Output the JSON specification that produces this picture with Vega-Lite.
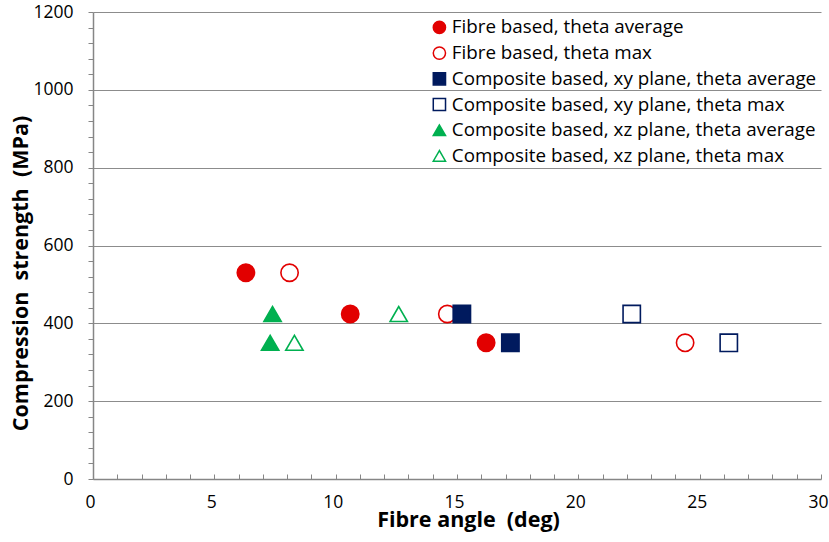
{
  "$schema": "https://vega.github.io/schema/vega-lite/v6.json",
  "width": 728,
  "height": 467,
  "autosize": {"type": "none"},
  "padding": {"left": 93, "top": 12, "right": 8, "bottom": 63},
  "background": "white",
  "config": {
    "font": "Open Sans",
    "view": {"stroke": null},
    "axis": {"labelFont": "Open Sans", "titleFont": "Open Sans", "labelColor": "#000000", "titleColor": "#000000"}
  },
  "data": {
    "values": [
      {"series": "Fibre based, theta average", "angle": 6.3, "strength": 530},
      {"series": "Fibre based, theta average", "angle": 10.6, "strength": 424},
      {"series": "Fibre based, theta average", "angle": 16.2, "strength": 350},
      {"series": "Fibre based, theta max", "angle": 8.1, "strength": 530},
      {"series": "Fibre based, theta max", "angle": 14.6, "strength": 424},
      {"series": "Fibre based, theta max", "angle": 24.4, "strength": 350},
      {"series": "Composite based, xy plane, theta average", "angle": 15.2, "strength": 424},
      {"series": "Composite based, xy plane, theta average", "angle": 17.2, "strength": 350},
      {"series": "Composite based, xy plane, theta max", "angle": 22.2, "strength": 424},
      {"series": "Composite based, xy plane, theta max", "angle": 26.2, "strength": 350},
      {"series": "Composite based, xz plane, theta average", "angle": 7.4, "strength": 424},
      {"series": "Composite based, xz plane, theta average", "angle": 7.3, "strength": 350},
      {"series": "Composite based, xz plane, theta max", "angle": 12.6, "strength": 424},
      {"series": "Composite based, xz plane, theta max", "angle": 8.3, "strength": 350}
    ]
  },
  "mark": {"type": "point", "opacity": 1, "size": 300, "strokeWidth": 1.6},
  "encoding": {
    "x": {
      "field": "angle", "type": "quantitative",
      "scale": {"domain": [0, 30], "nice": false, "zero": false},
      "axis": {
        "title": "Fibre angle \u00a0(deg)",
        "titleFontSize": 21.5, "titleFontWeight": "bold",
        "titlePadding": -1, "titleX": 375,
        "values": [0,1,2,3,4,5,6,7,8,9,10,11,12,13,14,15,16,17,18,19,20,21,22,23,24,25,26,27,28,29,30],
        "labelExpr": "datum.value % 5 === 0 ? datum.label : ''",
        "labelFontSize": 17.5, "labelPadding": 19, "labelOffset": -3, "labelFlush": false, "labelOverlap": false,
        "tickSize": -5, "tickColor": "#868686", "tickWidth": 1,
        "domainColor": "#868686", "domainWidth": 1.5,
        "grid": false
      }
    },
    "y": {
      "field": "strength", "type": "quantitative",
      "scale": {"domain": [0, 1200], "nice": false},
      "axis": {
        "title": "Compression \u00a0strength \u00a0(MPa)",
        "titleFontSize": 21.5, "titleFontWeight": "bold",
        "titlePadding": 0, "titleY": 261,
        "values": [0,40,80,120,160,200,240,280,320,360,400,440,480,520,560,600,640,680,720,760,800,840,880,920,960,1000,1040,1080,1120,1160,1200],
        "labelExpr": "datum.value % 200 === 0 ? datum.label : ''",
        "labelFontSize": 17.5, "labelPadding": 15, "labelFlush": false, "labelOverlap": false,
        "format": "d",
        "tickSize": 5, "tickColor": "#868686", "tickWidth": 1,
        "domainColor": "#868686", "domainWidth": 1.5,
        "grid": true, "gridColor": "#8c8c8c", "gridWidth": 1,
        "gridOpacity": {"condition": {"test": "datum.value % 200 !== 0 || datum.value === 0", "value": 0}, "value": 1}
      }
    },
    "shape": {
      "field": "series", "type": "nominal",
      "scale": {
        "domain": ["Fibre based, theta average", "Fibre based, theta max", "Composite based, xy plane, theta average", "Composite based, xy plane, theta max", "Composite based, xz plane, theta average", "Composite based, xz plane, theta max"],
        "range": ["circle", "circle", "square", "square", "triangle-up", "triangle-up"]
      },
      "legend": {
        "title": null, "orient": "none", "legendX": 337, "legendY": 6,
        "labelFont": "Open Sans", "labelFontSize": 18.8, "labelColor": "#000000",
        "symbolSize": 150, "symbolStrokeWidth": 1.5, "rowPadding": 5.7, "labelOffset": 3,
        "labelLimit": 500
      }
    },
    "fill": {
      "field": "series", "type": "nominal",
      "scale": {
        "domain": ["Fibre based, theta average", "Fibre based, theta max", "Composite based, xy plane, theta average", "Composite based, xy plane, theta max", "Composite based, xz plane, theta average", "Composite based, xz plane, theta max"],
        "range": ["#e20000", "#ffffff", "#001a5e", "#ffffff", "#00b050", "#ffffff"]
      }
    },
    "stroke": {
      "field": "series", "type": "nominal",
      "scale": {
        "domain": ["Fibre based, theta average", "Fibre based, theta max", "Composite based, xy plane, theta average", "Composite based, xy plane, theta max", "Composite based, xz plane, theta average", "Composite based, xz plane, theta max"],
        "range": ["#e20000", "#e20000", "#001a5e", "#001a5e", "#00b050", "#00b050"]
      }
    }
  }
}
